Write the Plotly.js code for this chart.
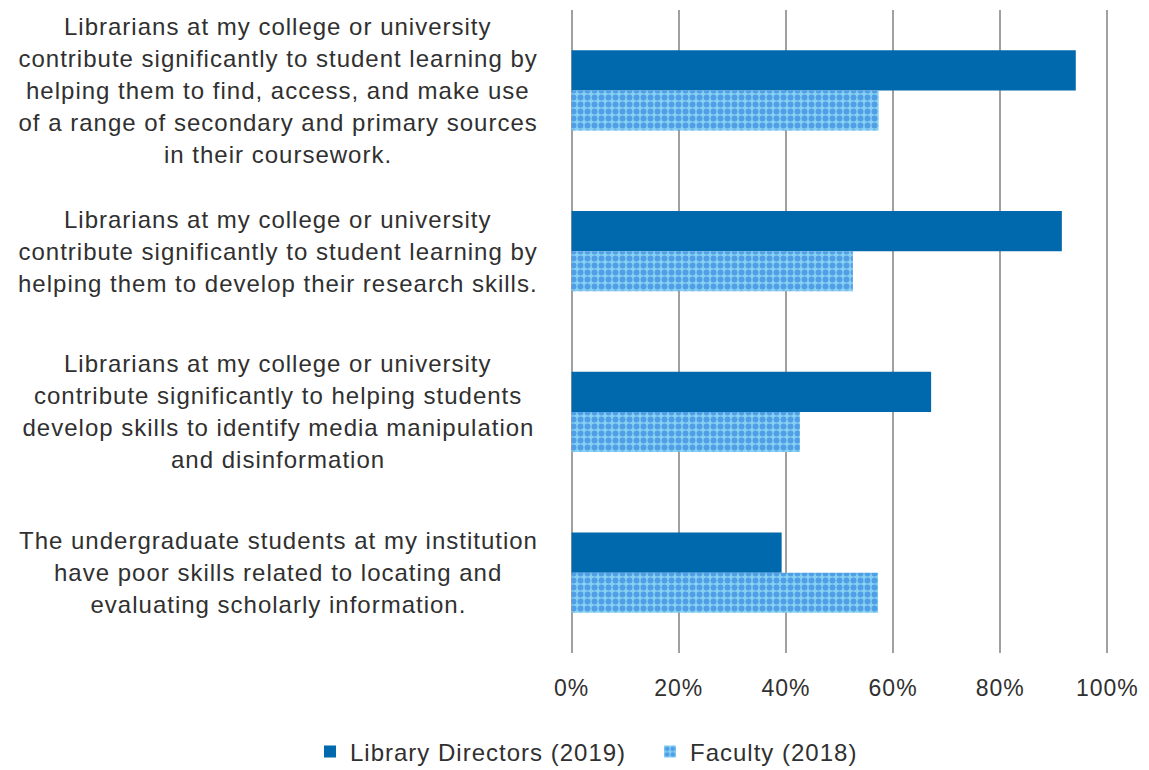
<!DOCTYPE html>
<html>
<head>
<meta charset="utf-8">
<script src="https://cdn.plot.ly/plotly-3.0.1.min.js"></script>
<style>
html,body{margin:0;padding:0;background:#fff;}
#chart{width:1149px;height:770px;}
#chart .annotation-text, #chart .xtick text, #chart .legendtext{letter-spacing:1px;}
</style>
</head>
<body>
<div id="chart"></div>
<script>
const categories = [
  "Librarians at my college or university<br>contribute significantly to student learning by<br>helping them to find, access, and make use<br>of a range of secondary and primary sources<br>in their coursework.",
  "Librarians at my college or university<br>contribute significantly to student learning by<br>helping them to develop their research skills.",
  "Librarians at my college or university<br>contribute significantly to helping students<br>develop skills to identify media manipulation<br>and disinformation",
  "The undergraduate students at my institution<br>have poor skills related to locating and<br>evaluating scholarly information."
];
const directors2019 = [0.941, 0.915, 0.671, 0.392];
const faculty2018 = [0.573, 0.525, 0.426, 0.572];
const seriesNames = ["Library Directors (2019)", "Faculty (2018)"];
const xTickVals = [0, 0.2, 0.4, 0.6, 0.8, 1.0];
const xTickText = ["0%", "20%", "40%", "60%", "80%", "100%"];

const FONT = "Liberation Sans, Arial, sans-serif";
const TXT = "#303030";
const LINE_H = 32;

const traces = [
  {
    type: "bar", orientation: "h", name: seriesNames[0],
    y: categories, x: directors2019,
    marker: {color: "#0068ad"},
    hoverinfo: "skip"
  },
  {
    type: "bar", orientation: "h", name: seriesNames[1],
    y: categories, x: faculty2018,
    marker: {
      color: "#86d0f2",
      pattern: {shape: ".", fgcolor: "#1a6cd8", bgcolor: "#86d0f2", size: 7, solidity: 0.55, fillmode: "overlay"}
    },
    hoverinfo: "skip"
  }
];

const annotations = [];
categories.forEach(function (cat) {
  const lines = cat.split("<br>");
  const n = lines.length;
  lines.forEach(function (ln, i) {
    annotations.push({
      xref: "paper", yref: "y", x: -0.541, y: cat,
      xanchor: "center", yanchor: "middle",
      text: ln, showarrow: false,
      yshift: ((n - 1) / 2 - i) * LINE_H,
      font: {family: FONT, size: 24, color: TXT}
    });
  });
});

const layout = {
  width: 1149, height: 770,
  margin: {l: 570, r: 40, t: 10, b: 117, autoexpand: false},
  paper_bgcolor: "#ffffff", plot_bgcolor: "#ffffff",
  barmode: "group", bargap: 0.5, bargroupgap: 0,
  font: {family: FONT, size: 23, color: TXT},
  showlegend: true,
  legend: {
    orientation: "h", xref: "paper", yref: "paper",
    x: -0.4824, y: -0.154, xanchor: "left", yanchor: "middle",
    font: {family: FONT, size: 24, color: TXT},
    itemwidth: 30, tracegroupgap: 0, entrywidth: 295
  },
  xaxis: {
    range: [-0.003, 1.003], tickvals: xTickVals, ticktext: xTickText,
    showgrid: true, gridcolor: "#a0a0a0", gridwidth: 2,
    zeroline: false, showline: false, ticks: "",
    ticklabelstandoff: 19,
    tickfont: {family: FONT, size: 23, color: TXT},
    fixedrange: true
  },
  yaxis: {
    autorange: "reversed", showticklabels: false, showgrid: false,
    zeroline: false, showline: false, ticks: "", fixedrange: true
  },
  annotations: annotations
};

Plotly.newPlot("chart", traces, layout, {displayModeBar: false, staticPlot: true});
</script>
</body>
</html>
